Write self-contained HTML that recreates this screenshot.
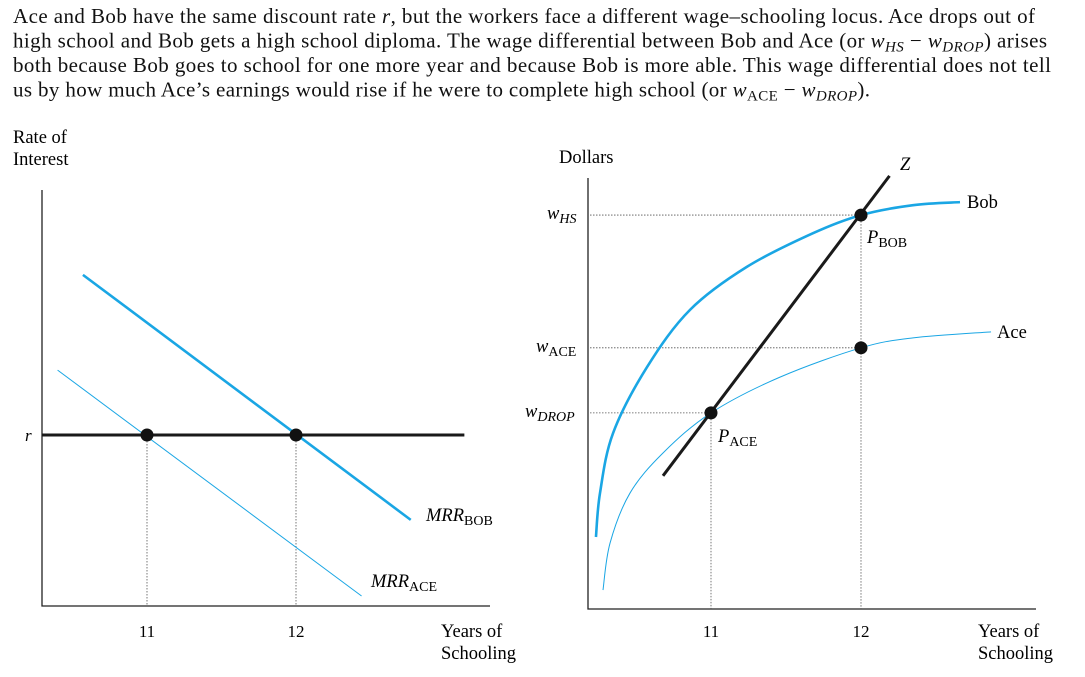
<!DOCTYPE html>
<html><head><meta charset="utf-8"><style>
html,body{margin:0;padding:0;background:#fff;}
svg{display:block;font-family:"Liberation Serif",serif;}
</style></head><body>
<svg id="chart" width="1085" height="677" viewBox="0 0 1085 677" xmlns="http://www.w3.org/2000/svg">
<g font-size="21" fill="#111">
<text x="13" y="23" textLength="1022" lengthAdjust="spacing">Ace and Bob have the same discount rate <tspan font-style="italic">r</tspan>, but the workers face a different wage–schooling locus. Ace drops out of</text>
<text x="13" y="47.5" textLength="1034" lengthAdjust="spacing">high school and Bob gets a high school diploma. The wage differential between Bob and Ace (or <tspan font-style="italic">w</tspan><tspan font-style="italic" font-size="15" dy="4">HS</tspan><tspan dy="-4"> − </tspan><tspan font-style="italic">w</tspan><tspan font-style="italic" font-size="15" dy="4">DROP</tspan><tspan dy="-4">) arises</tspan></text>
<text x="13" y="72" textLength="1038" lengthAdjust="spacing">both because Bob goes to school for one more year and because Bob is more able. This wage differential does not tell</text>
<text x="13" y="96.5" textLength="857" lengthAdjust="spacing">us by how much Ace’s earnings would rise if he were to complete high school (or <tspan font-style="italic">w</tspan><tspan font-size="15" dy="4">ACE</tspan><tspan dy="-4"> − </tspan><tspan font-style="italic">w</tspan><tspan font-style="italic" font-size="15" dy="4">DROP</tspan><tspan dy="-4">).</tspan></text>
</g>
<g id="left"></g>
<g id="right"></g>
</svg>
<script>
// Left panel data (years of schooling, rate index)
const leftTicks = [11, 12];
const rateR = 41.1;
const mrrBob = [[10.57, 79.6], [12.77, 20.7]];
const mrrAce = [[10.40, 56.7], [12.44, 2.4]];
const rLine = [10.30, 13.13];
// Right panel data (years, dollar index)
const rightTicks = [11, 12];
const bobCurve = [[10.233,16.7],[10.26,26.9],[10.347,40.8],[10.573,56.1],[10.86,69.4],[11.24,79.4],[11.68,87.2],[12,91.4],[12.347,93.7],[12.66,94.4]];
const aceCurve = [[10.28,4.4],[10.327,15.3],[10.46,26.9],[10.68,36.2],[11,45.5],[11.46,53.8],[12,60.6],[12.347,62.9],[12.867,64.3]];
const zLine = [[10.68,30.9],[12.19,100.5]];
const wHS = 91.4, wACE = 60.6, wDROP = 45.5;

const NS = "http://www.w3.org/2000/svg";
function mk(parent, tag, attrs, text){
  const e = document.createElementNS(NS, tag);
  for (const k in attrs) e.setAttribute(k, attrs[k]);
  if (text !== undefined) e.textContent = text;
  parent.appendChild(e); return e;
}
const lx = v => 147 + (v - 11) * 149;
const ly = v => 606 - v * 4.16;
const rx = v => 711 + (v - 11) * 150;
const ry = v => 609 - v * 4.31;

function smooth(pts){
  let d = "M" + pts[0][0] + "," + pts[0][1];
  for (let i = 0; i < pts.length - 1; i++){
    const p0 = pts[i-1] || pts[i], p1 = pts[i], p2 = pts[i+1], p3 = pts[i+2] || p2;
    const c1 = [p1[0] + (p2[0]-p0[0])/6, p1[1] + (p2[1]-p0[1])/6];
    const c2 = [p2[0] - (p3[0]-p1[0])/6, p2[1] - (p3[1]-p1[1])/6];
    d += " C" + c1 + " " + c2 + " " + p2;
  }
  return d;
}
const FS = 18.5;
const L = document.getElementById('left');
let e;
e = mk(L,'path',{d:"M42,190 L42,606 L490,606",fill:"none",stroke:"#222","stroke-width":1.3});


e = mk(L,'text',{x:13,y:143,"font-size":FS},"Rate of");


mk(L,'text',{x:13,y:165,"font-size":FS},"Interest");
leftTicks.forEach(t=>{
  e = mk(L,'line',{x1:lx(t),y1:ly(rateR),x2:lx(t),y2:606,stroke:"#555","stroke-width":0.8,"stroke-dasharray":"1.5,1.5"});
  
  
  e = mk(L,'text',{x:lx(t),y:637,"font-size":17,"text-anchor":"middle"},String(t));
  
  
});
e = mk(L,'text',{x:441,y:637,"font-size":FS},"Years of");


mk(L,'text',{x:441,y:659,"font-size":FS},"Schooling");
e = mk(L,'line',{x1:lx(mrrAce[0][0]),y1:ly(mrrAce[0][1]),x2:lx(mrrAce[1][0]),y2:ly(mrrAce[1][1]),stroke:"#1aa6e4","stroke-width":1});


e = mk(L,'line',{x1:lx(mrrBob[0][0]),y1:ly(mrrBob[0][1]),x2:lx(mrrBob[1][0]),y2:ly(mrrBob[1][1]),stroke:"#1aa6e4","stroke-width":2.6});


e = mk(L,'line',{x1:42,y1:ly(rateR),x2:lx(rLine[1]),y2:ly(rateR),stroke:"#1a1a1a","stroke-width":3});


e = mk(L,'text',{x:25,y:ly(rateR)+6,"font-size":17,"font-style":"italic"},"r");


leftTicks.forEach(t=>{
  e = mk(L,'circle',{cx:lx(t),cy:ly(rateR),r:6.5,fill:"#111"});
  
  
});
e = mk(L,'text',{x:426,y:521,"font-size":FS,"font-style":"italic"});


e.innerHTML = 'MRR<tspan font-style="normal" font-size="14" dy="4">BOB</tspan>';
e = mk(L,'text',{x:371,y:587,"font-size":FS,"font-style":"italic"});


e.innerHTML = 'MRR<tspan font-style="normal" font-size="14" dy="4">ACE</tspan>';

const R = document.getElementById('right');
e = mk(R,'path',{d:"M588,178 L588,609 L1036,609",fill:"none",stroke:"#222","stroke-width":1.3});


e = mk(R,'text',{x:559,y:163,"font-size":FS},"Dollars");


[[wHS,12],[wACE,12],[wDROP,11]].forEach(([w,t])=>{
  e = mk(R,'line',{x1:590,y1:ry(w),x2:rx(t),y2:ry(w),stroke:"#555","stroke-width":0.8,"stroke-dasharray":"1.5,1.5"});
  
  
});
rightTicks.forEach(t=>{
  e = mk(R,'line',{x1:rx(t),y1:ry(t===12?wHS:wDROP),x2:rx(t),y2:609,stroke:"#555","stroke-width":0.8,"stroke-dasharray":"1.5,1.5"});
  
  
  e = mk(R,'text',{x:rx(t),y:637,"font-size":17,"text-anchor":"middle"},String(t));
  
  
});
e = mk(R,'text',{x:978,y:637,"font-size":FS},"Years of");


mk(R,'text',{x:978,y:659,"font-size":FS},"Schooling");
[[wHS,'HS',true,547],[wACE,'ACE',false,536],[wDROP,'DROP',true,525]].forEach(([w,s,it,x])=>{
  e = mk(R,'text',{x:x,y:ry(w)+4,"font-size":FS,"font-style":"italic"});
  
  
  e.innerHTML = 'w<tspan font-size="14" dy="4" font-style="'+(it?'italic':'normal')+'">'+s+'</tspan>';
});
e = mk(R,'path',{d:smooth(aceCurve.map(p=>[rx(p[0]),ry(p[1])])),fill:"none",stroke:"#1aa6e4","stroke-width":1});


e = mk(R,'path',{d:smooth(bobCurve.map(p=>[rx(p[0]),ry(p[1])])),fill:"none",stroke:"#1aa6e4","stroke-width":2.6});


e = mk(R,'line',{x1:rx(zLine[0][0]),y1:ry(zLine[0][1]),x2:rx(zLine[1][0]),y2:ry(zLine[1][1]),stroke:"#1a1a1a","stroke-width":3});


[[11,wDROP],[12,wHS],[12,wACE]].forEach(([t,w])=>{
  e = mk(R,'circle',{cx:rx(t),cy:ry(w),r:6.5,fill:"#111"});
  
  
});
e = mk(R,'text',{x:900,y:170,"font-size":FS,"font-style":"italic"},"Z");


e = mk(R,'text',{x:967,y:208,"font-size":FS},"Bob");


e = mk(R,'text',{x:997,y:338,"font-size":FS},"Ace");


e = mk(R,'text',{x:867,y:243,"font-size":FS,"font-style":"italic"});


e.innerHTML = 'P<tspan font-style="normal" font-size="14" dy="4">BOB</tspan>';
e = mk(R,'text',{x:718,y:442,"font-size":FS,"font-style":"italic"});


e.innerHTML = 'P<tspan font-style="normal" font-size="14" dy="4">ACE</tspan>';
</script>
</body></html>
